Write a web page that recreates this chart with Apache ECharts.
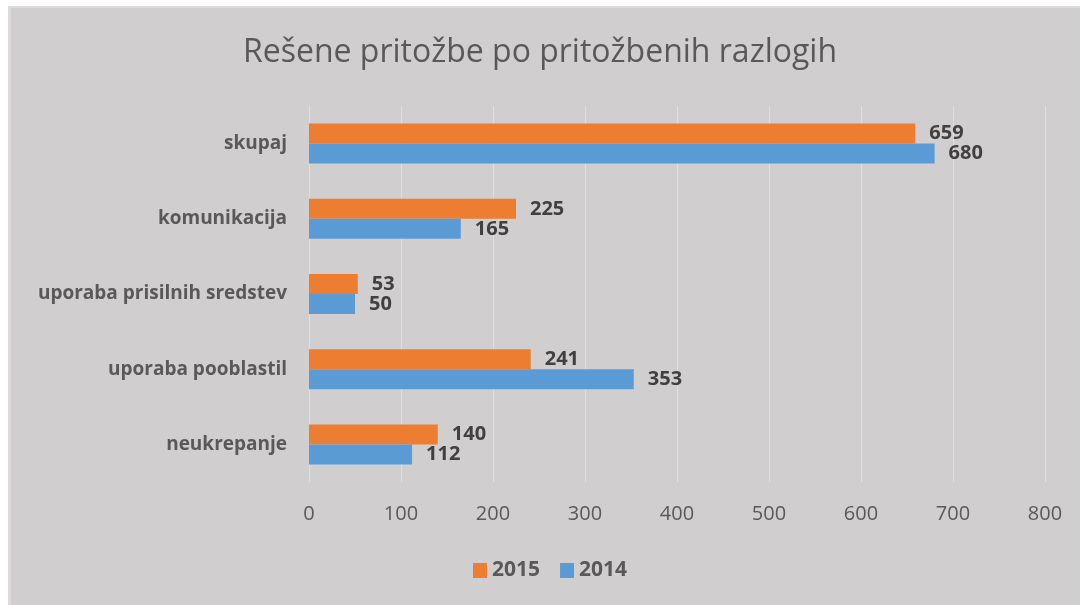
<!DOCTYPE html>
<html>
<head>
<meta charset="utf-8">
<script src="https://cdn.jsdelivr.net/npm/echarts@6/dist/echarts.min.js"></script>
<style>
  html, body { margin: 0; padding: 0; background: #ffffff; }
  #frame {
    position: absolute; left: 8px; top: 6px;
    width: 1072px; height: 599px;
    box-sizing: border-box;
    border-left: 3px solid #dcdadb;
    border-top: 2px solid #dcdadb;
    background: #d0cecf;
    overflow: hidden;
  }
  #chart { position: absolute; left: -11px; top: -8px; width: 1080px; height: 605px; }
</style>
</head>
<body>
<div id="frame"><div id="chart"></div></div>
<script>
// categories listed bottom to top (category axis starts at the bottom)
const categories = ["neukrepanje", "uporaba pooblastil", "uporaba prisilnih sredstev", "komunikacija", "skupaj"];
const values2015 = [140, 241, 53, 225, 659];
const values2014 = [112, 353, 50, 165, 680];
const xTicks = [0, 800, 100]; // min, max, interval

const myChart = echarts.init(document.getElementById("chart"));
const font = "'Open Sans', 'Noto Sans', sans-serif";

const labelStyle = {
  show: true,
  position: "right",
  distance: 14,
  color: "#404040",
  fontSize: 20,
  fontWeight: "bold",
  fontFamily: font
};

const option = {
  animation: false,
  title: {
    text: "Rešene pritožbe po pritožbenih razlogih",
    left: "center",
    top: 32,
    textStyle: { color: "#595959", fontSize: 32, fontWeight: "normal", fontFamily: font }
  },
  legend: {
    data: ["2015", "2014"],
    top: 555,
    left: 468,
    itemWidth: 14,
    itemHeight: 15,
    itemGap: 20,
    icon: "rect",
    textStyle: { color: "#595959", fontSize: 21, fontWeight: "bold", fontFamily: font }
  },
  grid: { left: 309, right: 35, top: 106, bottom: 123 },
  xAxis: {
    type: "value",
    min: xTicks[0],
    max: xTicks[1],
    interval: xTicks[2],
    axisLine: { show: false },
    axisTick: { show: false },
    splitLine: { lineStyle: { color: "#e0dede", width: 1 } },
    axisLabel: { color: "#595959", fontSize: 20, margin: 22, fontFamily: font }
  },
  yAxis: {
    type: "category",
    data: categories,
    axisLine: { show: true, lineStyle: { color: "#e0dede" } },
    axisTick: { show: false },
    axisLabel: { color: "#595959", fontSize: 19, fontWeight: "bold", margin: 22, fontFamily: font }
  },
  series: [
    {
      name: "2015",
      type: "bar",
      data: values2015,
      barWidth: 20,
      barGap: "0%",
      itemStyle: { color: "#ed7d31" },
      label: labelStyle
    },
    {
      name: "2014",
      type: "bar",
      data: values2014,
      barWidth: 20,
      barGap: "0%",
      itemStyle: { color: "#5b9bd5" },
      label: labelStyle
    }
  ]
};

myChart.setOption(option);
</script>
</body>
</html>
